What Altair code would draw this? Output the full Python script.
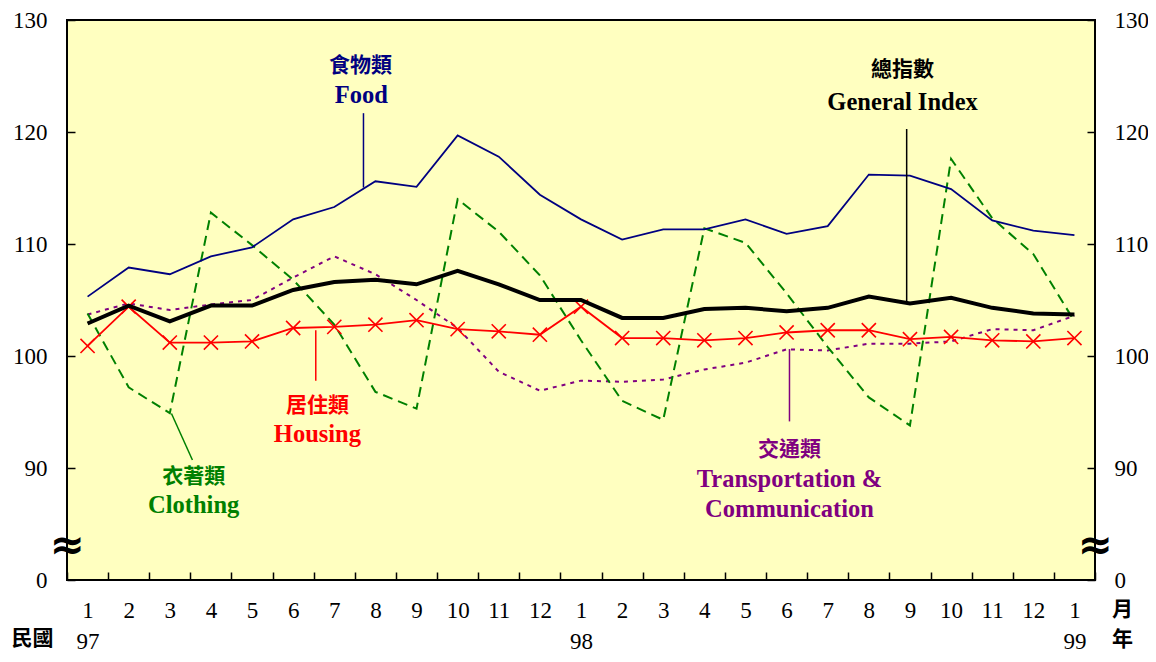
import json
import altair as alt
import pandas as pd

# ---------------- data ----------------
month_labels = ["1", "2", "3", "4", "5", "6", "7", "8", "9", "10", "11", "12",
                "1", "2", "3", "4", "5", "6", "7", "8", "9", "10", "11", "12", "1"]
year_labels = ["97"] + [""] * 11 + ["98"] + [""] * 11 + ["99"]

food = [105.3, 107.9, 107.3, 108.9, 109.7, 112.2, 113.3, 115.6, 115.1, 119.7, 117.8, 114.4,
        112.2, 110.4, 111.3, 111.3, 112.2, 110.9, 111.6, 116.2, 116.1, 114.9, 112.1, 111.2, 110.8]
general = [102.9, 104.5, 103.1, 104.5, 104.5, 105.9, 106.6, 106.8, 106.4, 107.6, 106.4, 105.0,
           105.0, 103.4, 103.4, 104.2, 104.3, 104.0, 104.3, 105.3, 104.7, 105.2, 104.3, 103.8, 103.7]
housing = [100.9, 104.4, 101.2, 101.2, 101.3, 102.5, 102.6, 102.8, 103.2, 102.4, 102.2, 101.9,
           104.4, 101.6, 101.6, 101.4, 101.6, 102.1, 102.3, 102.3, 101.5, 101.7, 101.4, 101.3, 101.6]
clothing = [103.8, 97.2, 94.9, 112.8, 109.9, 106.8, 102.8, 96.8, 95.3, 114.0, 111.1, 107.2,
            101.4, 96.0, 94.3, 111.4, 110.1, 105.6, 100.8, 96.3, 93.8, 117.6, 112.3, 109.1, 103.1]
transport = [103.7, 104.7, 104.1, 104.6, 105.0, 107.0, 108.9, 107.3, 105.0, 102.5, 98.6, 96.9,
             97.8, 97.7, 97.9, 98.8, 99.4, 100.6, 100.5, 101.1, 101.1, 101.3, 102.4, 102.3, 103.6]

y_ticks = [80, 90, 100, 110, 120, 130]
y_tick_labels = ["0", "90", "100", "110", "120", "130"]

# annotations (label text, anchor in data units)
cjk_text = ["食物類", "總指數", "居住類", "衣著類", "交通類", "民國", "月", "年"]
cjk_x = [6.64, 19.82, 5.59, 2.58, 17.07, -1.34, 25.17, 25.17]
cjk_y = [125.9, 125.5, 95.58, 89.2, 91.59, 74.7, 77.35, 74.6]
cjk_color = ["#000080", "#000000", "#FF0000", "#008000", "#800080", "#000000", "#000000", "#000000"]

eng_text = ["Food", "General Index", "Housing", "Clothing", "Transportation &", "Communication"]
eng_x = [6.66, 19.82, 5.59, 2.58, 17.07, 17.07]
eng_y = [123.2, 122.6, 92.92, 86.64, 88.94, 86.28]
eng_color = ["#000080", "#000000", "#FF0000", "#008000", "#800080", "#800080"]

lead_x = [6.71, 19.92, 5.55, 2.04, 17.07]
lead_y = [121.68, 120.27, 102.3, 94.87, 100.62]
lead_x2 = [6.71, 19.92, 5.55, 2.55, 17.07]
lead_y2 = [115.04, 104.69, 97.79, 90.71, 94.16]
lead_color = ["#000080", "#000000", "#FF0000", "#008000", "#800080"]

brk_x = [-0.5, 24.5]
brk_y = [83.0, 83.0]

# ---------------- chart ----------------
W, H = 1028, 560
idx = list(range(len(month_labels)))
SERIF = "Liberation Serif, DejaVu Serif, serif"
CJK = "Noto Sans CJK TC"

xscale = alt.Scale(type="band", paddingInner=0, paddingOuter=0)
yscale = alt.Scale(domain=[80, 130], nice=False, zero=False)
ascale = alt.Scale(domain=[-0.5, 24.5], nice=False, zero=False)

ylabel_expr = f"{json.dumps(dict(zip([str(v) for v in y_ticks], y_tick_labels)))}[''+datum.value]"
xlabel_expr = f"[{json.dumps(month_labels)}[datum.value], {json.dumps(year_labels)}[datum.value]]"

x_axis = alt.Axis(orient="bottom", tickBand="extent", labelExpr=xlabel_expr, offset=-8,
                  tickSize=8, tickColor="black", tickWidth=1.5, domain=False, grid=False,
                  labelAngle=0, labelPadding=19, labelLineHeight=31, labelFont=SERIF,
                  labelFontSize=23, labelColor="black", title=None)


def y_axis(orient, pad):
    return alt.Axis(orient=orient, values=y_ticks, labelExpr=ylabel_expr, offset=-8,
                    tickSize=8, tickColor="black", tickWidth=1.5, domain=False, grid=False,
                    labelPadding=pad, labelFont=SERIF, labelFontSize=23, labelColor="black",
                    title=None)


def line_layer(vals, color, width, dash=None, xa=None, ya=None):
    df = pd.DataFrame({"i": idx, "v": vals})
    kw = dict(color=color, strokeWidth=width)
    if dash:
        kw["strokeDash"] = dash
    return alt.Chart(df).mark_line(**kw).encode(
        x=alt.X("i:O", bandPosition=0.5, scale=xscale, axis=xa),
        y=alt.Y("v:Q", scale=yscale, axis=ya),
    )


transport_l = line_layer(transport, "#800080", 2, [4, 5])
clothing_l = line_layer(clothing, "#008000", 2, [10, 6])
food_l = line_layer(food, "#000080", 1.8, ya=y_axis("right", 19))
housing_l = line_layer(housing, "#FF0000", 1.8)
housing_p = alt.Chart(pd.DataFrame({"i": idx, "v": housing})).mark_point(
    shape="M-1,-1L1,1M-1,1L1,-1", size=200, filled=False, color="#FF0000", strokeWidth=1.6, opacity=1
).encode(
    x=alt.X("i:O", bandPosition=0.5, scale=xscale, axis=None),
    y=alt.Y("v:Q", scale=yscale, axis=None),
)
general_l = line_layer(general, "#000000", 4, xa=x_axis, ya=y_axis("left", 20))

lead_df = pd.DataFrame({"x": lead_x, "y": lead_y, "x2": lead_x2, "y2": lead_y2, "c": lead_color})
leaders = alt.Chart(lead_df).mark_rule(strokeWidth=1.5).encode(
    x=alt.X("x:Q", scale=ascale, axis=None), x2="x2:Q",
    y=alt.Y("y:Q", scale=yscale, axis=None), y2="y2:Q",
    color=alt.Color("c:N", scale=None),
)

cjk_df = pd.DataFrame({"x": cjk_x, "y": cjk_y, "t": cjk_text, "c": cjk_color})
cjk_l = alt.Chart(cjk_df).mark_text(font=CJK, fontSize=21, fontWeight="bold", baseline="middle",
                                    align="center").encode(
    x=alt.X("x:Q", scale=ascale, axis=None),
    y=alt.Y("y:Q", scale=yscale, axis=None),
    text="t:N", color=alt.Color("c:N", scale=None),
)

eng_df = pd.DataFrame({"x": eng_x, "y": eng_y, "t": eng_text, "c": eng_color})
eng_l = alt.Chart(eng_df).mark_text(font=SERIF, fontSize=24.5, fontWeight="bold", baseline="middle",
                                    align="center").encode(
    x=alt.X("x:Q", scale=ascale, axis=None),
    y=alt.Y("y:Q", scale=yscale, axis=None),
    text="t:N", color=alt.Color("c:N", scale=None),
)

brk_df = pd.DataFrame({"x": brk_x, "y": brk_y, "t": ["≈", "≈"]})
brk_l = alt.Chart(brk_df).mark_text(font="DejaVu Sans", fontSize=42, fontWeight="bold",
                                    baseline="middle", align="center", color="black").encode(
    x=alt.X("x:Q", scale=ascale, axis=None),
    y=alt.Y("y:Q", scale=yscale, axis=None),
    text="t:N",
)

chart = alt.layer(
    transport_l, clothing_l, food_l, housing_l, housing_p, general_l,
    leaders, cjk_l, eng_l, brk_l,
).resolve_scale(x="independent").resolve_axis(y="independent", x="independent").properties(
    width=W, height=H,
    autosize=alt.AutoSizeParams(type="none"),
    padding={"left": 59, "top": 12, "right": 53, "bottom": 74},
).configure_view(fill="#FFFFC0", stroke="black", strokeWidth=2)

chart.save("out.html", embed_options={"renderer": "svg", "actions": False})
